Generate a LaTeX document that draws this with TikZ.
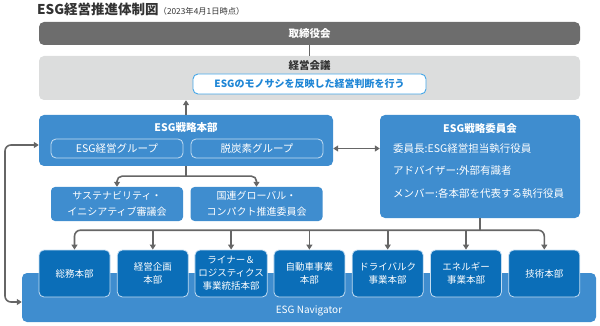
\documentclass[tikz,border=0pt]{standalone}
\usepackage{fontspec}
\setmainfont{Noto Sans CJK JP}
\usetikzlibrary{arrows.meta, positioning, calc}
\definecolor{boardgray}{HTML}{6D6D6D}
\definecolor{meetgray}{HTML}{DCDDDD}
\definecolor{hqblue}{HTML}{3F8DCF}
\definecolor{unitblue}{HTML}{0B6EB8}
\definecolor{policyblue}{HTML}{1E86D6}
\definecolor{policyedge}{HTML}{45A7E8}
\definecolor{linegray}{HTML}{666666}
\definecolor{edgelight}{HTML}{C4DDF2}
\definecolor{titlegray}{HTML}{333333}

\begin{document}
\begin{tikzpicture}[x=1pt, y=-1pt,
  boardbar/.style={fill=boardgray, rounded corners=5pt, minimum width=541pt, minimum height=23pt,
    text=white, font=\fontsize{10.5}{12}\selectfont\bfseries},
  meetbox/.style={fill=meetgray, rounded corners=5pt, minimum width=541pt, minimum height=44pt},
  policybox/.style={draw=policyedge, line width=0.9pt, fill=white, rounded corners=5pt,
    minimum width=233pt, minimum height=20pt, text=policyblue, font=\fontsize{10}{12}\selectfont\bfseries},
  bluebox/.style={fill=hqblue, rounded corners=5pt},
  groupbox/.style={draw=edgelight, line width=0.8pt, fill=hqblue, rounded corners=5pt,
    minimum width=132pt, minimum height=19pt, text=white, font=\fontsize{10.5}{12}\selectfont},
  subbox/.style={fill=hqblue, rounded corners=4pt, minimum width=132pt, minimum height=34pt,
    align=center, text=white, font=\fontsize{10}{16}\selectfont},
  unitbox/.style={draw=edgelight, line width=0.8pt, fill=unitblue, rounded corners=5pt,
    minimum width=71pt, minimum height=47pt, align=center, text=white,
    font=\fontsize{9.5}{13}\selectfont},
  boxtitle/.style={text=white, font=\fontsize{10.5}{12}\selectfont\bfseries},
  conn/.style={draw=linegray, line width=1.6pt},
  arr/.style={conn, -{Triangle[length=5pt, width=6pt]}}]
  \useasboundingbox (0,0) rectangle (600,326);

  % title
  \node[anchor=base west, inner sep=0pt, text=titlegray] (title) at (37,15)
    {\fontsize{13.5}{15}\selectfont\bfseries ESG経営推進体制図\fontsize{8.3}{10}\selectfont\mdseries（2023年4月1日時点）};

  % board and management meeting
  \node[boardbar] (board) at (309.5,33.5) {取締役会};
  \node[meetbox] (meet) at (309.5,78) {};
  \node[font=\fontsize{10.5}{12}\selectfont\bfseries, text=titlegray] (meettitle) at (309.5,66) {経営会議};
  \node[policybox] (policy) at (309.5,84) {ESGのモノサシを反映した経営判断を行う};

  % ESG strategy headquarters
  \node[bluebox, minimum width=294pt, minimum height=51pt] (hq) at (186,140.5) {};
  \node[boxtitle] (hqtitle) at (186,128) {ESG戦略本部};
  \node[groupbox] (grp1) at (117,148.5) {ESG経営グループ};
  \node[groupbox] (grp2) at (257,148.5) {脱炭素グループ};
  \node[subbox] (sub1) at (117,204) {サステナビリティ・\\イニシアティブ審議会};
  \node[subbox] (sub2) at (256.5,204) {国連グローバル・\\コンパクト推進委員会};

  % ESG strategy committee
  \node[bluebox, minimum width=200pt, minimum height=103pt] (comm) at (480,166.5) {};
  \node[boxtitle] (commtitle) at (480,129) {ESG戦略委員会};
  \node[anchor=west, align=left, text=white, inner sep=0pt,
        font=\fontsize{10.5}{22.5}\selectfont] (commtext) at (393,171)
    {委員長:ESG経営担当執行役員\\アドバイザー:外部有識者\\メンバー:各本部を代表する執行役員};

  % ESG Navigator and business units
  \node[bluebox, minimum width=574pt, minimum height=49pt] (nav) at (309,297.5) {};
  \node[text=white, font=\fontsize{10}{12}\selectfont] (navtitle) at (309,311) {ESG Navigator};
  \foreach \name/\label [count=\i from 0] in {u1/総務本部, u2/経営企画\\本部,
      u3/ライナー＆\\ロジスティクス\\事業統括本部, u4/自動車事業\\本部,
      u5/ドライバルク\\事業本部, u6/エネルギー\\事業本部, u7/技術本部}
    \node[unitbox] (\name) at ({74.5+78.3*\i},273.5) {\label};

  % connectors
  \draw[conn] (board.south) -- (meet.north);
  \draw[arr] (hq.north) -- (hq.north |- meet.south);
  \coordinate (hqsplit) at ($(hq.south)+(0,10)$);
  \draw[conn] (hq.south) -- (hqsplit);
  \draw[arr, rounded corners=5pt] (hqsplit) -| (sub1.north);
  \draw[arr, rounded corners=5pt] (hqsplit) -| (sub2.north);
  \draw[conn, {Triangle[length=5pt, width=6pt]}-{Triangle[length=5pt, width=6pt]}]
    (grp2.center -| hq.east) -- (grp2.center -| comm.west);

  \coordinate (usplit) at ($(comm.south)+(0,12)$);
  \draw[conn] (comm.south) -- (usplit);
  \draw[arr, rounded corners=6pt] (usplit) -| (u1.north);
  \draw[arr, rounded corners=6pt] (usplit) -| (u7.north);
  \foreach \name in {u2,u3,u4,u5,u6}
    \draw[arr] (\name.north |- usplit) -- (\name.north);

  \coordinate (hqin) at ($(hq.west)+(0,4.5)$);
  \coordinate (navin) at ($(nav.west)+(0,4.5)$);
  \coordinate (loopx) at (5,0);
  \draw[conn, {Triangle[length=5pt, width=6pt]}-{Triangle[length=5pt, width=6pt]}, rounded corners=6pt]
    (hqin) -| (loopx |- navin) -- (navin);
\end{tikzpicture}
\end{document}
